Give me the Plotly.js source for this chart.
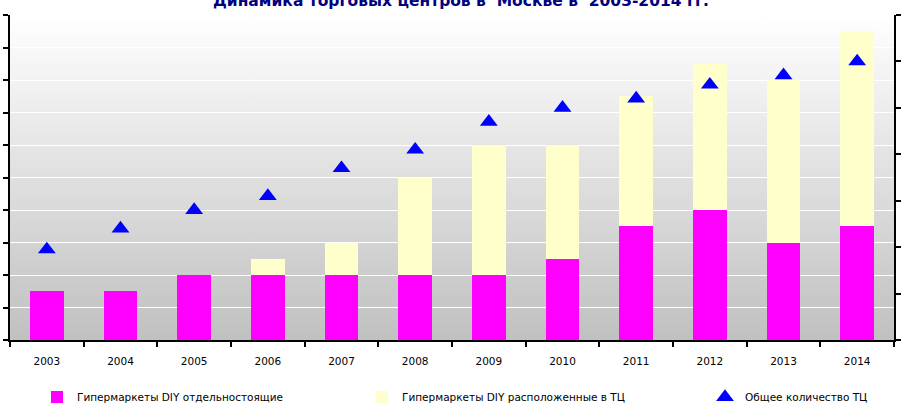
<!DOCTYPE html>
<html><head><meta charset="utf-8">
<script src="https://cdn.plot.ly/plotly-3.0.1.min.js"></script>
<style>html,body{margin:0;padding:0;background:#fff}#chart{width:917px;height:405px}</style>
</head><body><div id="chart"></div>
<script>
const years = ['2003','2004','2005','2006','2007','2008','2009','2010','2011','2012','2013','2014'];
const standalone = [3,3,4,4,4,4,4,5,7,8,6,7];
const inMall = [0,0,0,1,2,6,8,7,8,9,10,12];
const totalTC = [39,48,56,62,74,82,94,100,104,110,114,120];
const nameStandalone = 'Гипермаркеты DIY отдельностоящие';
const nameInMall = 'Гипермаркеты DIY расположенные в ТЦ';
const nameTotal = 'Общее количество ТЦ';
const titleText = 'Динамика торговых центров в  Москве в  2003-2014 гг.';

const grad = "<svg xmlns='http://www.w3.org/2000/svg' width='10' height='100' preserveAspectRatio='none'><defs><linearGradient id='g' x1='0' y1='0' x2='0' y2='1'><stop offset='0' stop-color='#ffffff'/><stop offset='1' stop-color='#c0c0c0'/></linearGradient></defs><rect width='10' height='100' fill='url(#g)'/></svg>";
const gradSrc = 'data:image/svg+xml;charset=utf-8,' + encodeURIComponent(grad);

const traces = [
  {type:'bar', x:years, y:standalone, name:nameStandalone, marker:{color:'#FF00FF'}, legend:'legend'},
  {type:'bar', x:years, y:inMall, name:nameInMall, marker:{color:'#FFFFCC'}, legend:'legend2'},
  {type:'scatter', mode:'markers', x:years, y:totalTC, yaxis:'y2', name:nameTotal,
   marker:{symbol:'triangle-up', size:15.5, color:'#0000FF'}, legend:'legend3'}
];

const legBase = {orientation:'h', xref:'container', yref:'container', y:1-397/405, yanchor:'middle', xanchor:'left',
  bgcolor:'rgba(0,0,0,0)', font:{family:'DejaVu Sans', size:10.5, color:'#000'}};

const layout = {
  width:917, height:405,
  margin:{l:10, r:23, t:15, b:65},
  paper_bgcolor:'#ffffff', plot_bgcolor:'rgba(0,0,0,0)',
  barmode:'stack', bargap:0.54,
  font:{family:'DejaVu Sans', size:10.5, color:'#000'},
  title:{text:titleText, font:{family:'DejaVu Sans', size:15.5, color:'#000080', weight:'bold'},
    x:461/917, xref:'container', xanchor:'center', y:1-1/405, yref:'container', yanchor:'middle', automargin:false},
  images:[{source:gradSrc, xref:'paper', yref:'paper', x:0, y:1, sizex:1, sizey:1,
    sizing:'stretch', layer:'below', xanchor:'left', yanchor:'top'}],
  xaxis:{type:'category', range:[-0.5, 11.5], tickson:'boundaries', ticks:'outside', ticklen:5, tickwidth:2, tickcolor:'#000',
    showline:true, linecolor:'#000', linewidth:2, showgrid:false, ticklabelstandoff:10, automargin:false,
    tickfont:{family:'DejaVu Sans', size:10.5, color:'#000'}},
  yaxis:{range:[0,20], tick0:0, dtick:2, ticks:'outside', ticklen:5, tickwidth:2, tickcolor:'#000',
    showline:true, linewidth:2, linecolor:'#000', showgrid:true, gridcolor:'#ffffff', gridwidth:1,
    showticklabels:false, zeroline:false, automargin:false},
  yaxis2:{overlaying:'y', side:'right', anchor:'x', range:[0,140], tick0:0, dtick:20, ticks:'outside', ticklen:5,
    tickwidth:2, tickcolor:'#000', showline:true, linewidth:2, linecolor:'#000', showgrid:false,
    showticklabels:false, zeroline:false, automargin:false},
  yaxis3:{overlaying:'y', side:'right', anchor:'x', range:[0,140], tick0:0, dtick:20, ticks:'inside', ticklen:5,
    tickwidth:2, tickcolor:'#000', showline:false, showgrid:false, showticklabels:false, zeroline:false, automargin:false},
  legend:Object.assign({}, legBase, {x:37/917}),
  legend2:Object.assign({}, legBase, {x:362/917}),
  legend3:Object.assign({}, legBase, {x:705/917}),
  showlegend:true
};

Plotly.newPlot('chart', traces, layout, {staticPlot:true, displayModeBar:false});
</script>
</body></html>
